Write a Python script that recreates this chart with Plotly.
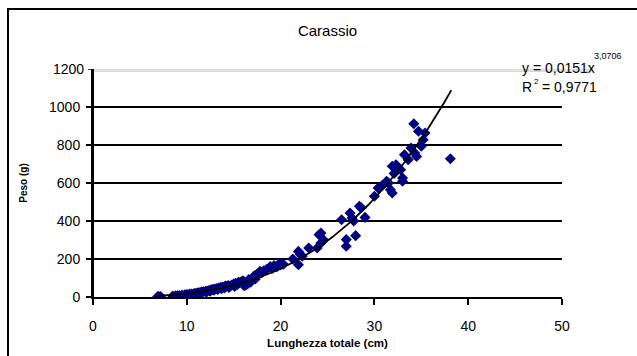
import numpy as np
import plotly.graph_objects as go

# Lunghezza totale (cm) e peso (g) dei carassi campionati
lunghezza = [6.9, 7.0, 7.2, 8.5, 8.8, 9.0, 9.2, 9.5, 9.8, 10.0, 10.1, 10.3, 10.5,
             10.7, 10.8, 11.0, 11.1, 11.2, 11.4, 11.5, 11.6, 11.8, 12.0, 12.1, 12.2,
             12.4, 12.5, 12.6, 12.8, 12.9, 13.0, 13.2, 13.3, 13.4, 13.6, 13.7, 13.8,
             14.0, 14.1, 14.2, 14.4, 14.5, 14.6, 14.8, 15.0, 15.1, 15.2, 15.4, 15.5,
             15.6, 15.8, 16.0, 16.1, 16.2, 16.3, 16.5, 16.6, 16.8, 17.0, 17.2, 17.3,
             17.5, 17.8, 18.0, 18.2, 18.5, 18.9, 19.1, 19.3, 19.6, 19.9, 20.0, 20.3,
             21.3, 21.9, 21.9, 22.1, 22.3, 23.0, 23.9, 24.1, 24.3, 24.3, 24.6,
             26.5, 27.0, 27.0, 27.4, 27.6, 27.8, 28.0, 28.4, 28.6, 29.0, 30.0, 30.4,
             30.8, 31.3, 31.5, 31.7, 31.9, 31.9, 32.1, 32.3, 32.8, 33.0, 33.0, 33.2,
             33.6, 33.9, 34.2, 34.3, 34.5, 34.7, 35.0, 35.2, 35.4, 38.1]
peso = [2, 3, 3, 5, 6, 7, 8, 10, 12, 13, 10, 15, 16,
        15, 18, 20, 17, 22, 24, 21, 27, 28, 30, 26, 32,
        35, 30, 38, 40, 36, 42, 45, 40, 47, 50, 44, 52,
        48, 58, 55, 60, 50, 58, 63, 68, 56, 72, 66, 78,
        75, 80, 85, 60, 64, 63, 70, 92, 78, 100, 112, 95,
        120, 135, 128, 138, 145, 161, 150, 165, 160, 177, 168, 172,
        200, 240, 170, 225, 215, 258, 258, 328, 337, 284, 300,
        407, 302, 267, 442, 416, 400, 323, 477, 470, 419, 530, 574,
        585, 609, 600, 565, 547, 688, 650, 696, 670, 626, 609, 749,
        723, 784, 912, 758, 740, 872, 793, 828, 863, 728]

# Curva di regressione potenza y = a * x^b
coef_a = 0.0151
coef_b = 3.0706
x_fit = np.linspace(6.9, 38.2, 200)
y_fit = coef_a * x_fit ** coef_b

FONT = "Liberation Sans, Arial, sans-serif"

fig = go.Figure()
fig.add_trace(go.Scatter(
    x=lunghezza, y=peso, mode="markers",
    marker=dict(symbol="diamond", size=8.5, color="#000080", line=dict(width=0)),
    showlegend=False, hoverinfo="x+y"))
fig.add_trace(go.Scatter(
    x=x_fit, y=y_fit, mode="lines",
    line=dict(color="black", width=1.8), showlegend=False, hoverinfo="skip"))

fig.update_layout(
    width=637, height=356,
    margin=dict(l=93, r=75, t=69, b=59, autoexpand=False),
    paper_bgcolor="white", plot_bgcolor="white",
    font=dict(family=FONT, color="black", size=14),
    title=dict(text="Carassio", x=0.5, xref="paper", xanchor="center",
               y=1 - 31 / 356, yanchor="middle",
               font=dict(family=FONT, size=15, color="black")),
    xaxis=dict(range=[0, 50], tickvals=[0, 10, 20, 30, 40, 50],
               showgrid=False, zeroline=False, automargin=False,
               showline=True, linecolor="black", linewidth=2,
               ticks="outside", ticklen=6, tickwidth=1.5, tickcolor="black",
               ticklabelstandoff=9,
               tickfont=dict(size=14),
               title=dict(text="<b>Lunghezza totale (cm)</b>",
                          font=dict(size=11.5), standoff=6)),
    yaxis=dict(range=[0, 1200], tickvals=[0, 200, 400, 600, 800, 1000],
               showgrid=True, gridcolor="black", gridwidth=2,
               zeroline=False, automargin=False,
               showline=True, linecolor="black", linewidth=2,
               ticks="outside", ticklen=5, tickwidth=1.5, tickcolor="black",
               ticklabelstandoff=3,
               tickfont=dict(size=14),
               title=dict(text="<b>Peso (g)</b>", font=dict(size=10), standoff=20)),
)

# Tacca ed etichetta a 1200, con doppia linea grigia superiore
fig.add_annotation(xref="paper", yref="y", x=0, y=1200, xshift=-8,
                   xanchor="right", yanchor="middle", showarrow=False,
                   text="1200", font=dict(size=14), borderpad=0)
fig.add_shape(type="line", xref="paper", yref="y", x0=-0.011, x1=0, y0=1200, y1=1200,
              line=dict(color="black", width=1.5), layer="above")
fig.add_shape(type="line", xref="paper", yref="y", x0=0, x1=1.067, y0=1200, y1=1200,
              line=dict(color="#bcbcbc", width=1), layer="above")
fig.add_shape(type="line", xref="paper", yref="y", x0=0, x1=1.067, y0=1189, y1=1189,
              line=dict(color="#bcbcbc", width=1), layer="above")
fig.add_shape(type="line", xref="paper", yref="y", x0=0, x1=0, y0=0, y1=1200,
              line=dict(color="black", width=2), layer="above")

# Cornice esterna del grafico
fig.add_shape(type="rect", xref="paper", yref="paper",
              x0=-0.1812, x1=1.2, y0=-0.3, y1=(297 - 9) / 228,
              line=dict(color="black", width=2), fillcolor="rgba(0,0,0,0)")

# Equazione della curva e R²
fig.add_annotation(xref="paper", yref="paper", x=(596 - 93) / 469, y=(297 - 68) / 228,
                   xanchor="right", yanchor="middle", showarrow=False, borderpad=0,
                   text="y = 0,0151x", font=dict(size=14))
fig.add_annotation(xref="paper", yref="paper", x=(593 - 93) / 469, y=(297 - 56) / 228,
                   xanchor="left", yanchor="middle", showarrow=False, borderpad=0,
                   text="3,0706", font=dict(size=9))
fig.add_annotation(xref="paper", yref="paper", x=(533 - 93) / 469, y=(297 - 87) / 228,
                   xanchor="right", yanchor="middle", showarrow=False, borderpad=0,
                   text="R", font=dict(size=14))
fig.add_annotation(xref="paper", yref="paper", x=(533 - 93) / 469, y=(297 - 81) / 228,
                   xanchor="left", yanchor="middle", showarrow=False, borderpad=0,
                   text="2", font=dict(size=8))
fig.add_annotation(xref="paper", yref="paper", x=(541 - 93) / 469, y=(297 - 87) / 228,
                   xanchor="left", yanchor="middle", showarrow=False, borderpad=0,
                   text="= 0,9771", font=dict(size=14))

fig.write_html("out.html")
